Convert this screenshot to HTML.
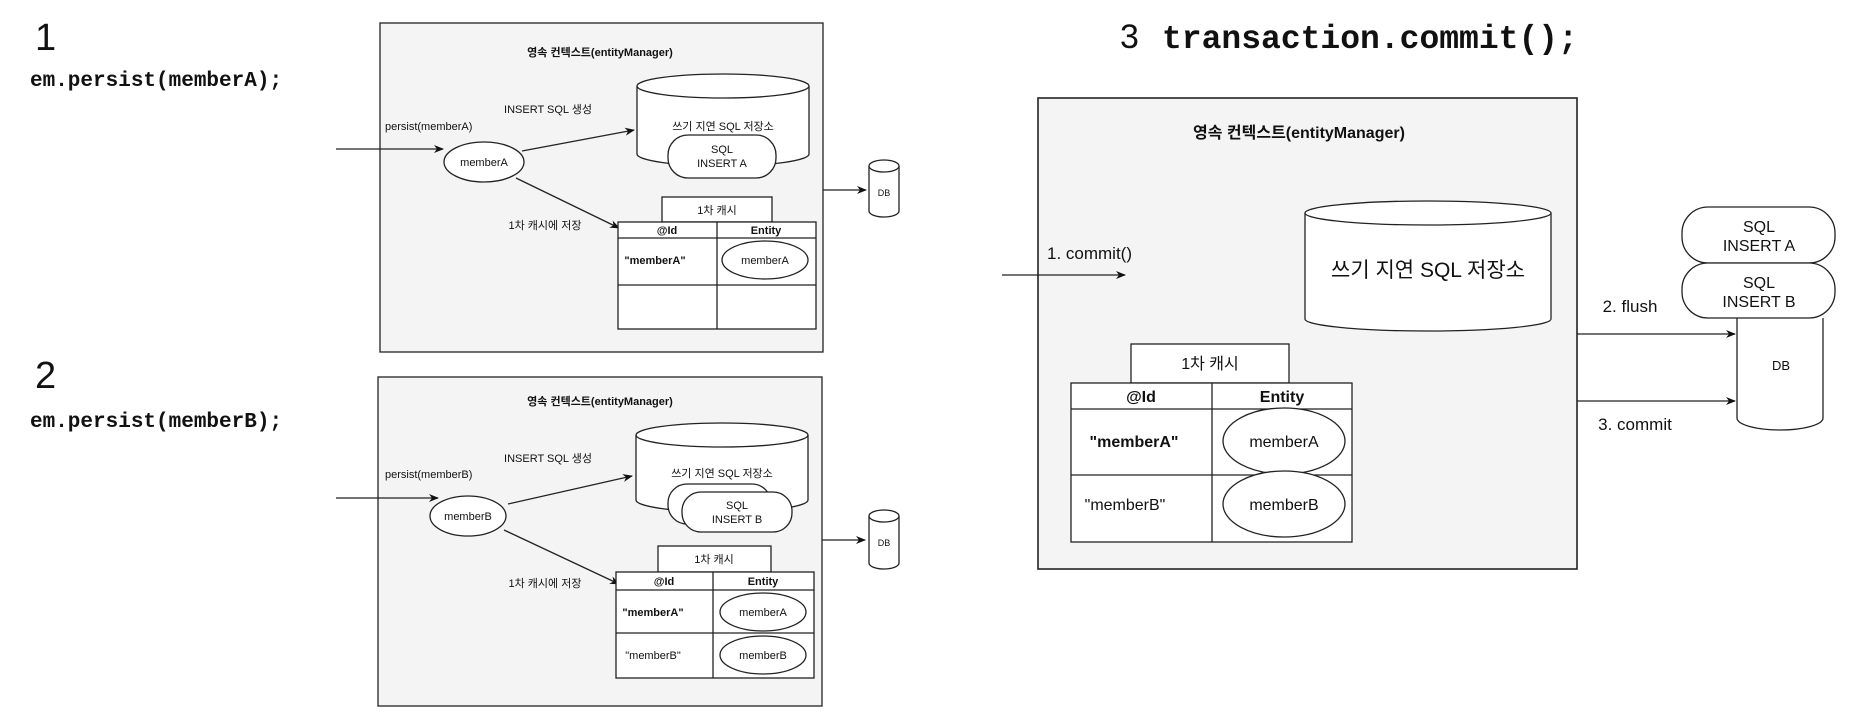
<!DOCTYPE html>
<html><head><meta charset="utf-8"><style>
html,body{margin:0;padding:0;background:#fff;width:1860px;height:724px;overflow:hidden}
svg{display:block}
text{font-family:"Liberation Sans","Noto Sans CJK KR",sans-serif;fill:#111}
.m{font-family:"Liberation Mono","DejaVu Sans Mono",monospace;font-weight:bold}
</style></head><body>
<svg width="1860" height="724" viewBox="0 0 1860 724" xmlns="http://www.w3.org/2000/svg">
<defs><marker id="ar" markerWidth="10" markerHeight="10" refX="9" refY="5" orient="auto" markerUnits="userSpaceOnUse"><path d="M0,1 L10,5 L0,9 L3,5z" fill="#111"/></marker></defs>
<g stroke="#222" stroke-width="1.3" fill="none">
<!-- panel 1 -->
<rect x="380" y="23" width="443" height="329" fill="#f4f4f4"/>
<path d="M637,86 v68 a86,12 0 0 0 172,0 v-68" fill="#fff"/>
<ellipse cx="723" cy="86" rx="86" ry="12" fill="#fff"/>
<rect x="668" y="135" width="108" height="43" rx="20" fill="#fff"/>
<line x1="336" y1="149" x2="443" y2="149" marker-end="url(#ar)"/>
<ellipse cx="484" cy="162" rx="40" ry="20" fill="#fff"/>
<line x1="522" y1="151" x2="634" y2="130" marker-end="url(#ar)"/>
<line x1="516" y1="178" x2="619" y2="228" marker-end="url(#ar)"/>
<rect x="662" y="197" width="110" height="25" fill="#fff"/>
<rect x="618" y="222" width="198" height="107" fill="#fff"/>
<line x1="618" y1="238" x2="816" y2="238"/><line x1="618" y1="285" x2="816" y2="285"/><line x1="717" y1="222" x2="717" y2="329"/>
<ellipse cx="765" cy="260" rx="43" ry="19" fill="#fff"/>
<line x1="823" y1="190" x2="866" y2="190" marker-end="url(#ar)"/>
<path d="M869,166 v45 a15,6 0 0 0 30,0 v-45" fill="#fff"/><ellipse cx="884" cy="166" rx="15" ry="6" fill="#fff"/>
<!-- panel 2 -->
<rect x="378" y="377" width="444" height="329" fill="#f4f4f4"/>
<path d="M636,435 v65 a86,12 0 0 0 172,0 v-65" fill="#fff"/>
<ellipse cx="722" cy="435" rx="86" ry="12" fill="#fff"/>
<rect x="668" y="484" width="103" height="40" rx="19" fill="#fff"/>
<rect x="682" y="492" width="110" height="40" rx="19" fill="#fff"/>
<line x1="336" y1="498" x2="438" y2="498" marker-end="url(#ar)"/>
<ellipse cx="468" cy="516" rx="38" ry="20" fill="#fff"/>
<line x1="508" y1="504" x2="632" y2="476" marker-end="url(#ar)"/>
<line x1="504" y1="530" x2="619" y2="584" marker-end="url(#ar)"/>
<rect x="658" y="546" width="113" height="26" fill="#fff"/>
<rect x="616" y="572" width="198" height="106" fill="#fff"/>
<line x1="616" y1="590" x2="814" y2="590"/><line x1="616" y1="633" x2="814" y2="633"/><line x1="713" y1="572" x2="713" y2="678"/>
<ellipse cx="763" cy="612" rx="43" ry="19" fill="#fff"/>
<ellipse cx="763" cy="655" rx="43" ry="19" fill="#fff"/>
<line x1="822" y1="540" x2="865" y2="540" marker-end="url(#ar)"/>
<path d="M869,516 v47 a15,6 0 0 0 30,0 v-47" fill="#fff"/><ellipse cx="884" cy="516" rx="15" ry="6" fill="#fff"/>
<!-- panel 3 -->
<rect x="1038" y="98" width="539" height="471" fill="#f4f4f4" stroke-width="1.6"/>
<path d="M1305,213 v106 a123,12 0 0 0 246,0 v-106" fill="#fff"/>
<ellipse cx="1428" cy="213" rx="123" ry="12" fill="#fff"/>
<line x1="1002" y1="275" x2="1125" y2="275" marker-end="url(#ar)"/>
<rect x="1131" y="344" width="158" height="39" fill="#fff"/>
<rect x="1071" y="383" width="281" height="159" fill="#fff"/>
<line x1="1071" y1="409" x2="1352" y2="409"/><line x1="1071" y1="475" x2="1352" y2="475"/><line x1="1212" y1="383" x2="1212" y2="542"/>
<ellipse cx="1284" cy="441" rx="61" ry="33" fill="#fff"/>
<ellipse cx="1284" cy="504" rx="61" ry="33" fill="#fff"/>
<path d="M1737,318 v100 a43,12 0 0 0 86,0 v-100" fill="#fff"/>
<rect x="1682" y="207" width="153" height="56" rx="26" fill="#fff"/>
<rect x="1682" y="263" width="153" height="55" rx="26" fill="#fff"/>
<line x1="1577" y1="334" x2="1735" y2="334" marker-end="url(#ar)"/>
<line x1="1577" y1="401" x2="1735" y2="401" marker-end="url(#ar)"/>
</g>
<!-- left texts -->
<text x="35" y="50" font-size="38">1</text>
<text x="30" y="86" font-size="21" class="m">em.persist(memberA);</text>
<text x="35" y="388" font-size="38">2</text>
<text x="30" y="427" font-size="21" class="m">em.persist(memberB);</text>
<!-- panel 1 texts -->
<g font-size="11" text-anchor="middle">
<text x="600" y="56" font-weight="bold">영속 컨텍스트(entityManager)</text>
<text x="548" y="113">INSERT SQL 생성</text>
<text x="385" y="130" text-anchor="start">persist(memberA)</text>
<text x="484" y="166">memberA</text>
<text x="723" y="130">쓰기 지연 SQL 저장소</text>
<text x="722" y="153">SQL</text><text x="722" y="167">INSERT A</text>
<text x="545" y="229">1차 캐시에 저장</text>
<text x="717" y="214">1차 캐시</text>
<text x="667" y="234" font-weight="bold">@Id</text><text x="766" y="234" font-weight="bold">Entity</text>
<text x="655" y="264" font-weight="bold">"memberA"</text>
<text x="765" y="264">memberA</text>
<text x="884" y="196" font-size="9">DB</text>
<!-- panel 2 -->
<text x="600" y="405" font-weight="bold">영속 컨텍스트(entityManager)</text>
<text x="548" y="462">INSERT SQL 생성</text>
<text x="385" y="478" text-anchor="start">persist(memberB)</text>
<text x="468" y="520">memberB</text>
<text x="722" y="477">쓰기 지연 SQL 저장소</text>
<text x="737" y="509">SQL</text><text x="737" y="523">INSERT B</text>
<text x="545" y="587">1차 캐시에 저장</text>
<text x="714" y="563">1차 캐시</text>
<text x="664" y="585" font-weight="bold">@Id</text><text x="763" y="585" font-weight="bold">Entity</text>
<text x="653" y="616" font-weight="bold">"memberA"</text>
<text x="763" y="616">memberA</text>
<text x="653" y="659">"memberB"</text>
<text x="763" y="659">memberB</text>
<text x="884" y="546" font-size="9">DB</text>
</g>
<!-- panel 3 texts -->
<text x="1120" y="48" font-size="34">3</text>
<text x="1162" y="48" font-size="33" class="m">transaction.commit();</text>
<g text-anchor="middle" font-size="16">
<text x="1299" y="138" font-weight="bold">영속 컨텍스트(entityManager)</text>
<text x="1428" y="277" font-size="21">쓰기 지연 SQL 저장소</text>
<text x="1047" y="259" text-anchor="start" font-size="17">1. commit()</text>
<text x="1210" y="369">1차 캐시</text>
<text x="1141" y="402" font-weight="bold">@Id</text><text x="1282" y="402" font-weight="bold">Entity</text>
<text x="1134" y="447" font-weight="bold">"memberA"</text>
<text x="1284" y="447">memberA</text>
<text x="1125" y="510">"memberB"</text>
<text x="1284" y="510">memberB</text>
<text x="1759" y="232">SQL</text><text x="1759" y="251">INSERT A</text>
<text x="1759" y="288">SQL</text><text x="1759" y="307">INSERT B</text>
<text x="1781" y="370" font-size="13">DB</text>
<text x="1630" y="312" font-size="17">2. flush</text>
<text x="1635" y="430" font-size="17">3. commit</text>
</g>
</svg>
</body></html>
